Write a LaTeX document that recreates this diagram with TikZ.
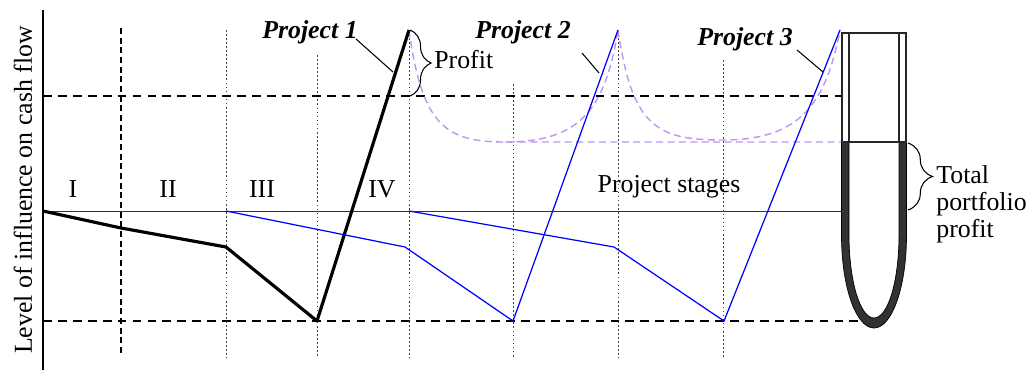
\documentclass[tikz,border=0pt]{standalone}
\usepackage{fontspec}
\setmainfont{Liberation Serif}
\usetikzlibrary{decorations.pathreplacing,positioning}
\definecolor{StageBlue}{RGB}{0,0,255}
\definecolor{ProfitLilac}{RGB}{190,150,240}
\definecolor{TubeDark}{RGB}{50,50,50}
\tikzset{
  hdash/.style={black,line width=0.7pt,dash pattern=on 5pt off 3.5pt},
  vdash/.style={black,line width=0.7pt,dash pattern=on 3.5pt off 2pt},
  vdot/.style={black!75,line width=0.5pt,dash pattern=on 1pt off 1.3pt},
  projone/.style={black,line width=1.8pt,line join=round},
  projn/.style={StageBlue,line width=0.7pt},
  pdash/.style={ProfitLilac,line width=0.8pt,dash pattern=on 4pt off 2.5pt},
  lead/.style={black,line width=0.6pt},
  pname/.style={font=\fontsize{14.7}{15.4}\selectfont\bfseries\itshape,inner sep=0pt},
  lbl/.style={inner sep=0pt},
  rbrace/.style={decorate,decoration={brace,amplitude=12pt},line width=0.6pt},
}

\begin{document}
\begin{tikzpicture}[x=0.02cm,y=-0.02cm,font=\fontsize{14.7}{15.4}\selectfont]
  \useasboundingbox (0,0) rectangle (1030,372);
  % stage grid
  \draw[vdash] (121,28) -- (121,355);
  \foreach \x/\t in {226/30,317/55,409/30,513/84,618/30,723/60}
    \draw[vdot] (\x,\t) -- (\x,358);
  \draw[hdash] (43,96) -- (842,96);
  \draw[hdash] (43,321) -- (863,321);
  \draw[black!80,line width=0.5pt] (43,211) -- (842,211);
  % axis
  \draw[black,line width=0.6pt] (43,10) -- (43,370);
  \draw[black,line width=1.5pt] (43,10) -- (43,29) (43,356) -- (43,370);
  \node[lbl,rotate=90] (ylab) at (23,190) {Level of influence on cash flow};
  % stages
  \node[lbl,anchor=base] (s1) at (73,197) {I};
  \node[lbl,anchor=base] (s2) at (168,197) {II};
  \node[lbl,anchor=base] (s3) at (262,197) {III};
  \node[lbl,anchor=base] (s4) at (382,197) {IV};
  \node[lbl,anchor=base] (stg) at (669,192) {Project stages};
  % profit curves
  \draw[pdash] (409,30) .. controls (422,125) and (445,142) .. (505,142) -- (842,142);
  \draw[pdash] (505,142) .. controls (580,142) and (605,110) .. (618,30);
  \draw[pdash] (618,30) .. controls (632,125) and (655,140) .. (722,140)
    .. controls (795,140) and (825,110) .. (840,30);
  % projects
  \draw[projone] (43,211) -- (121,228) -- (226,247) -- (317,321) -- (409,30);
  \draw[projn] (226,211) -- (405,247) -- (513,321) -- (618,30);
  \draw[projn] (409,211) -- (614,247) -- (724,321) -- (840,30);
  \node[pname,anchor=base] (p1) at (310,38) {Project 1};
  \node[pname,anchor=base] (p2) at (523,38) {Project 2};
  \node[pname,anchor=base] (p3) at (745,45) {Project 3};
  \coordinate (p1a) at (356,39); \coordinate (p1b) at (393,72);
  \coordinate (p2a) at (582,53); \coordinate (p2b) at (599,73);
  \coordinate (p3a) at (797,50); \coordinate (p3b) at (823,72);
  \draw[lead] (p1a) -- (p1b);
  \draw[lead] (p2a) -- (p2b);
  \draw[lead] (p3a) -- (p3b);
  % profit brace
  \draw[rbrace] (410,30) -- (410,96);
  \node[lbl,anchor=base west] (prf) at (434,68) {Profit};
  % tube
  \fill[white] (842,33) rectangle (906,142);
  \draw[black,line width=0.4pt,fill=TubeDark,even odd rule]
    (841.5,142) -- (841.5,235) .. controls (841.5,287) and (856,328) .. (874,328)
      .. controls (892,328) and (906.5,287) .. (906.5,235) -- (906.5,142) -- cycle
    (849,142) -- (849,235) .. controls (849,281) and (860,318) .. (874,318)
      .. controls (888,318) and (899,281) .. (899,235) -- (899,142) -- cycle;
  \draw[black!85,line width=0.6pt] (842,33) rectangle (906,142);
  \draw[black!85,line width=0.6pt] (849,33) -- (849,142) (899,33) -- (899,142);
  % total brace
  \draw[rbrace,decoration={amplitude=14pt}] (908,143) -- (908,210);
  \node[lbl,anchor=west,align=left] (tot) at (936,204) {Total\\portfolio\\profit};
\end{tikzpicture}
\end{document}
